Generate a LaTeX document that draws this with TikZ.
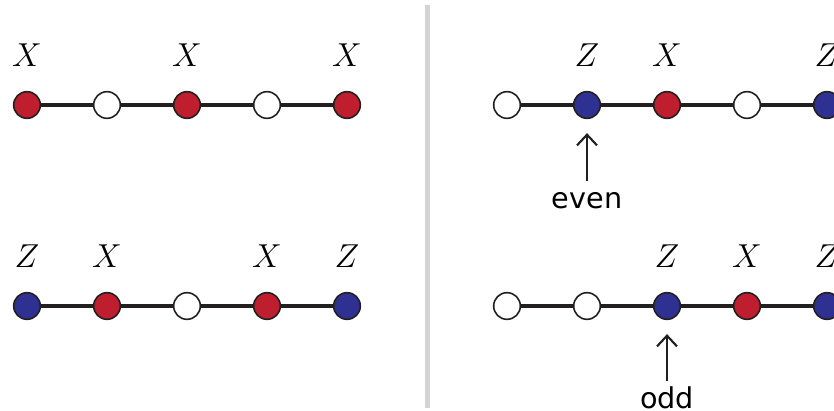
\documentclass[tikz,border=0pt]{standalone}
\usepackage{fontspec}
\newfontfamily\notefont{DejaVu Sans}
\usepackage{tikz}
\usetikzlibrary{arrows.meta,positioning}
\definecolor{SiteRed}{RGB}{190, 30, 45}
\definecolor{SiteBlue}{RGB}{46, 49, 146}
\definecolor{BondInk}{RGB}{35, 31, 32}
\definecolor{RuleGray}{RGB}{212, 212, 212}

\begin{document}
\begin{tikzpicture}[x=0.75pt, y=-0.75pt,
    site/.style={circle, draw=BondInk, line width=1.2pt, minimum size=20pt, inner sep=0pt, fill=white},
    xsite/.style={site, fill=SiteRed},
    zsite/.style={site, fill=SiteBlue},
    bond/.style={BondInk, line width=2.6pt},
    oplabel/.style={anchor=base, inner sep=0pt, font=\fontsize{27}{30}\selectfont},
    note/.style={anchor=base, inner sep=0pt, font=\notefont\fontsize{21.5}{26}\selectfont},
    pointer/.style={BondInk, line width=1.6pt, -{Straight Barb[length=8pt, width=15pt, line width=1.6pt]}, shorten >=10.5pt}]
          \useasboundingbox (0, 0) rectangle (834, 410);
          \clip (0, 0) rectangle (834, 410);
          % Divider
          \draw[RuleGray, line width=3.75pt] (427, 5) -- (427, 408);
          % Left, top chain
          \node[xsite] (a1) at (27, 105) {};
          \node[site]  (a2) at (107, 105) {};
          \node[xsite] (a3) at (187, 105) {};
          \node[site]  (a4) at (267, 105) {};
          \node[xsite] (a5) at (347, 105) {};
          \draw[bond] (a1) -- (a2) (a2) -- (a3) (a3) -- (a4) (a4) -- (a5);
          \node[oplabel] at (27, 67) {$X$};
          \node[oplabel] at (187, 67) {$X$};
          \node[oplabel] at (347, 67) {$X$};
          % Left, bottom chain
          \node[zsite] (b1) at (27, 306) {};
          \node[xsite] (b2) at (107, 306) {};
          \node[site]  (b3) at (187, 306) {};
          \node[xsite] (b4) at (267, 306) {};
          \node[zsite] (b5) at (347, 306) {};
          \draw[bond] (b1) -- (b2) (b2) -- (b3) (b3) -- (b4) (b4) -- (b5);
          \node[oplabel] at (27, 267) {$Z$};
          \node[oplabel] at (107, 267) {$X$};
          \node[oplabel] at (267, 267) {$X$};
          \node[oplabel] at (347, 267) {$Z$};
          % Right, top chain
          \node[site]  (c1) at (507, 105) {};
          \node[zsite] (c2) at (587, 105) {};
          \node[xsite] (c3) at (667, 105) {};
          \node[site]  (c4) at (747, 105) {};
          \node[zsite] (c5) at (827, 105) {};
          \draw[bond] (c1) -- (c2) (c2) -- (c3) (c3) -- (c4) (c4) -- (c5);
          \node[oplabel] at (587, 67) {$Z$};
          \node[oplabel] at (667, 67) {$X$};
          \node[oplabel] at (827, 67) {$Z$};
          % Right, bottom chain
          \node[site]  (d1) at (507, 306) {};
          \node[site]  (d2) at (587, 306) {};
          \node[zsite] (d3) at (667, 306) {};
          \node[xsite] (d4) at (747, 306) {};
          \node[zsite] (d5) at (827, 306) {};
          \draw[bond] (d1) -- (d2) (d2) -- (d3) (d3) -- (d4) (d4) -- (d5);
          \node[oplabel] at (667, 267) {$Z$};
          \node[oplabel] at (747, 267) {$X$};
          \node[oplabel] at (827, 267) {$Z$};
          % Pointers
          \node[note] (even) at (587, 208) {even};
          \coordinate (evenfoot) at (587, 181);
          \draw[pointer] (evenfoot) -- (c2);
          \node[note] (odd) at (667, 408) {odd};
          \coordinate (oddfoot) at (667, 381);
          \draw[pointer] (oddfoot) -- (d3);
        \end{tikzpicture}
\end{document}
